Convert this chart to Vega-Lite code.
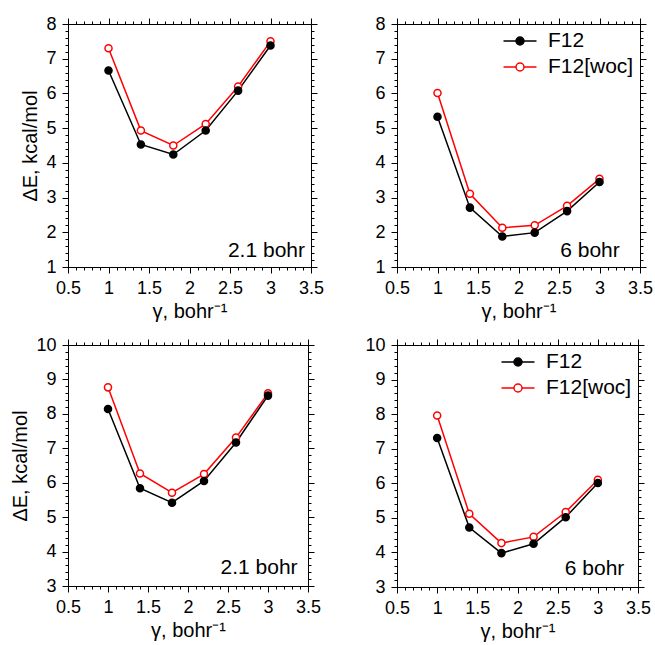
{
  "$schema": "https://vega.github.io/schema/vega-lite/v6.json",
  "padding": {"left": 10, "top": 14, "right": 1, "bottom": 2},
  "columns": 2,
  "spacing": {"row": 13, "column": 39},
  "datasets": {
    "pts": [
      {"panel": "TL", "series": "F12[woc]", "gamma": 1.0, "dE": 7.30},
      {"panel": "TL", "series": "F12[woc]", "gamma": 1.4, "dE": 4.93},
      {"panel": "TL", "series": "F12[woc]", "gamma": 1.8, "dE": 4.50},
      {"panel": "TL", "series": "F12[woc]", "gamma": 2.2, "dE": 5.12},
      {"panel": "TL", "series": "F12[woc]", "gamma": 2.6, "dE": 6.20},
      {"panel": "TL", "series": "F12[woc]", "gamma": 3.0, "dE": 7.50},
      {"panel": "TL", "series": "F12", "gamma": 1.0, "dE": 6.66},
      {"panel": "TL", "series": "F12", "gamma": 1.4, "dE": 4.53},
      {"panel": "TL", "series": "F12", "gamma": 1.8, "dE": 4.24},
      {"panel": "TL", "series": "F12", "gamma": 2.2, "dE": 4.93},
      {"panel": "TL", "series": "F12", "gamma": 2.6, "dE": 6.08},
      {"panel": "TL", "series": "F12", "gamma": 3.0, "dE": 7.38},
      {"panel": "TR", "series": "F12[woc]", "gamma": 1.0, "dE": 6.01},
      {"panel": "TR", "series": "F12[woc]", "gamma": 1.4, "dE": 3.11},
      {"panel": "TR", "series": "F12[woc]", "gamma": 1.8, "dE": 2.13},
      {"panel": "TR", "series": "F12[woc]", "gamma": 2.2, "dE": 2.20},
      {"panel": "TR", "series": "F12[woc]", "gamma": 2.6, "dE": 2.76},
      {"panel": "TR", "series": "F12[woc]", "gamma": 3.0, "dE": 3.54},
      {"panel": "TR", "series": "F12", "gamma": 1.0, "dE": 5.33},
      {"panel": "TR", "series": "F12", "gamma": 1.4, "dE": 2.71},
      {"panel": "TR", "series": "F12", "gamma": 1.8, "dE": 1.88},
      {"panel": "TR", "series": "F12", "gamma": 2.2, "dE": 1.99},
      {"panel": "TR", "series": "F12", "gamma": 2.6, "dE": 2.61},
      {"panel": "TR", "series": "F12", "gamma": 3.0, "dE": 3.45},
      {"panel": "BL", "series": "F12[woc]", "gamma": 1.0, "dE": 8.77},
      {"panel": "BL", "series": "F12[woc]", "gamma": 1.4, "dE": 6.27},
      {"panel": "BL", "series": "F12[woc]", "gamma": 1.8, "dE": 5.71},
      {"panel": "BL", "series": "F12[woc]", "gamma": 2.2, "dE": 6.25},
      {"panel": "BL", "series": "F12[woc]", "gamma": 2.6, "dE": 7.31},
      {"panel": "BL", "series": "F12[woc]", "gamma": 3.0, "dE": 8.60},
      {"panel": "BL", "series": "F12", "gamma": 1.0, "dE": 8.14},
      {"panel": "BL", "series": "F12", "gamma": 1.4, "dE": 5.84},
      {"panel": "BL", "series": "F12", "gamma": 1.8, "dE": 5.42},
      {"panel": "BL", "series": "F12", "gamma": 2.2, "dE": 6.05},
      {"panel": "BL", "series": "F12", "gamma": 2.6, "dE": 7.17},
      {"panel": "BL", "series": "F12", "gamma": 3.0, "dE": 8.53},
      {"panel": "BR", "series": "F12[woc]", "gamma": 1.0, "dE": 7.96},
      {"panel": "BR", "series": "F12[woc]", "gamma": 1.4, "dE": 5.12},
      {"panel": "BR", "series": "F12[woc]", "gamma": 1.8, "dE": 4.27},
      {"panel": "BR", "series": "F12[woc]", "gamma": 2.2, "dE": 4.45},
      {"panel": "BR", "series": "F12[woc]", "gamma": 2.6, "dE": 5.17},
      {"panel": "BR", "series": "F12[woc]", "gamma": 3.0, "dE": 6.10},
      {"panel": "BR", "series": "F12", "gamma": 1.0, "dE": 7.31},
      {"panel": "BR", "series": "F12", "gamma": 1.4, "dE": 4.72},
      {"panel": "BR", "series": "F12", "gamma": 1.8, "dE": 3.98},
      {"panel": "BR", "series": "F12", "gamma": 2.2, "dE": 4.25},
      {"panel": "BR", "series": "F12", "gamma": 2.6, "dE": 5.02},
      {"panel": "BR", "series": "F12", "gamma": 3.0, "dE": 6.01}
    ],
    "labels": [
      {"panel": "TL", "label": "2.1 bohr"},
      {"panel": "TR", "label": "6 bohr"},
      {"panel": "BL", "label": "2.1 bohr"},
      {"panel": "BR", "label": "6 bohr"}
    ]
  },
  "concat": [
    {
      "width": 243, "height": 243,
      "resolve": {"axis": {"x": "independent", "y": "independent"}},
      "layer": [
        {"data": {"name": "pts"}, "transform": [{"filter": "datum.panel == 'TL'"}],
         "mark": {"type": "line", "strokeWidth": 1.5},
         "encoding": {
           "x": {"field": "gamma", "type": "quantitative", "scale": {"domain": [0.5, 3.5], "nice": false, "zero": false},
                 "axis": {"orient": "bottom", "format": "~g", "values": [0.5, 1, 1.5, 2, 2.5, 3, 3.5], "tickSize": 6, "labelPadding": 6, "title": "γ, bohr⁻¹", "titlePadding": 4}},
           "y": {"field": "dE", "type": "quantitative", "scale": {"domain": [1, 8], "nice": false, "zero": false},
                 "axis": {"orient": "left", "values": [1, 2, 3, 4, 5, 6, 7, 8], "tickSize": 6, "labelPadding": 6, "title": "ΔE, kcal/mol", "titlePadding": 5}},
           "stroke": {"field": "series", "type": "nominal", "scale": {"domain": ["F12", "F12[woc]"], "range": ["black", "red"]}, "legend": null}
         }},
        {"data": {"name": "pts"}, "transform": [{"filter": "datum.panel == 'TL'"}],
         "mark": {"type": "point", "shape": "circle", "size": 50, "strokeWidth": 1.5, "opacity": 1},
         "encoding": {
           "x": {"field": "gamma", "type": "quantitative", "axis": {"orient": "top", "values": [0.5, 1, 1.5, 2, 2.5, 3, 3.5], "tickSize": 6, "labels": false, "title": null}},
           "y": {"field": "dE", "type": "quantitative", "axis": {"orient": "right", "values": [1, 2, 3, 4, 5, 6, 7, 8], "tickSize": 6, "labels": false, "title": null}},
           "stroke": {"field": "series", "type": "nominal", "scale": {"domain": ["F12", "F12[woc]"], "range": ["black", "red"]}, "legend": null},
           "fill": {"condition": {"test": "datum.series === 'F12'", "value": "black"}, "value": "white"}
         }},
        {"data": {"name": "pts"}, "transform": [{"filter": "datum.panel == 'TL'"}],
         "mark": {"type": "point", "opacity": 0},
         "encoding": {
           "x": {"field": "gamma", "type": "quantitative", "axis": {"orient": "bottom", "values": [0.5,0.6,0.7,0.8,0.9,1,1.1,1.2,1.3,1.4,1.5,1.6,1.7,1.8,1.9,2,2.1,2.2,2.3,2.4,2.5,2.6,2.7,2.8,2.9,3,3.1,3.2,3.3,3.4,3.5], "tickSize": 3, "labels": false, "title": null}},
           "y": {"field": "dE", "type": "quantitative", "axis": {"orient": "left", "values": [1,1.2,1.4,1.6,1.8,2,2.2,2.4,2.6,2.8,3,3.2,3.4,3.6,3.8,4,4.2,4.4,4.6,4.8,5,5.2,5.4,5.6,5.8,6,6.2,6.4,6.6,6.8,7,7.2,7.4,7.6,7.8,8], "tickSize": 3, "labels": false, "title": null}}
         }},
        {"data": {"name": "pts"}, "transform": [{"filter": "datum.panel == 'TL'"}],
         "mark": {"type": "point", "opacity": 0},
         "encoding": {
           "x": {"field": "gamma", "type": "quantitative", "axis": {"orient": "top", "values": [0.5,0.6,0.7,0.8,0.9,1,1.1,1.2,1.3,1.4,1.5,1.6,1.7,1.8,1.9,2,2.1,2.2,2.3,2.4,2.5,2.6,2.7,2.8,2.9,3,3.1,3.2,3.3,3.4,3.5], "tickSize": 3, "labels": false, "title": null}},
           "y": {"field": "dE", "type": "quantitative", "axis": {"orient": "right", "values": [1,1.2,1.4,1.6,1.8,2,2.2,2.4,2.6,2.8,3,3.2,3.4,3.6,3.8,4,4.2,4.4,4.6,4.8,5,5.2,5.4,5.6,5.8,6,6.2,6.4,6.6,6.8,7,7.2,7.4,7.6,7.8,8], "tickSize": 3, "labels": false, "title": null}}
         }},
        {"data": {"name": "labels"}, "transform": [{"filter": "datum.panel == 'TL'"}],
         "mark": {"type": "text", "align": "right", "baseline": "alphabetic", "fontSize": 21, "color": "black"},
         "encoding": {
           "text": {"field": "label"},
           "x": {"datum": 3.426, "type": "quantitative", "axis": null},
           "y": {"datum": 1.29, "type": "quantitative", "axis": null}
         }}
      ]
    },
    {
      "width": 243, "height": 243,
      "resolve": {"axis": {"x": "independent", "y": "independent"}},
      "layer": [
        {"data": {"name": "pts"}, "transform": [{"filter": "datum.panel == 'TR'"}],
         "mark": {"type": "line", "strokeWidth": 1.5},
         "encoding": {
           "x": {"field": "gamma", "type": "quantitative", "scale": {"domain": [0.5, 3.5], "nice": false, "zero": false},
                 "axis": {"orient": "bottom", "format": "~g", "values": [0.5, 1, 1.5, 2, 2.5, 3, 3.5], "tickSize": 6, "labelPadding": 6, "title": "γ, bohr⁻¹", "titlePadding": 4}},
           "y": {"field": "dE", "type": "quantitative", "scale": {"domain": [1, 8], "nice": false, "zero": false},
                 "axis": {"orient": "left", "values": [1, 2, 3, 4, 5, 6, 7, 8], "tickSize": 6, "labelPadding": 6, "title": null}},
           "stroke": {"field": "series", "type": "nominal", "scale": {"domain": ["F12", "F12[woc]"], "range": ["black", "red"]}}
         }},
        {"data": {"name": "pts"}, "transform": [{"filter": "datum.panel == 'TR'"}],
         "mark": {"type": "point", "shape": "circle", "size": 50, "strokeWidth": 1.5, "opacity": 1},
         "encoding": {
           "x": {"field": "gamma", "type": "quantitative", "axis": {"orient": "top", "values": [0.5, 1, 1.5, 2, 2.5, 3, 3.5], "tickSize": 6, "labels": false, "title": null}},
           "y": {"field": "dE", "type": "quantitative", "axis": {"orient": "right", "values": [1, 2, 3, 4, 5, 6, 7, 8], "tickSize": 6, "labels": false, "title": null}},
           "stroke": {"field": "series", "type": "nominal", "scale": {"domain": ["F12", "F12[woc]"], "range": ["black", "red"]},
                      "legend": {"orient": "top-right", "offset": 6, "title": null, "labelFontSize": 21, "symbolSize": 400, "labelOffset": 17, "rowPadding": 5, "padding": 0,
                                 "symbolStrokeWidth": 1.5, "symbolOpacity": 1,
                                 "symbolFillColor": {"expr": "datum.value === 'F12' ? 'black' : 'white'"},
                                 "symbolType": "M-1.65,0L-0.4,0M0.4,0L1.65,0M-0.4,0A0.4,0.4,0,1,0,0.4,0A0.4,0.4,0,1,0,-0.4,0Z"}},
           "fill": {"field": "series", "type": "nominal", "scale": {"domain": ["F12", "F12[woc]", "none"], "range": ["black", "white", "white"]}, "legend": null}
         }},
        {"data": {"name": "pts"}, "transform": [{"filter": "datum.panel == 'TR'"}],
         "mark": {"type": "point", "opacity": 0},
         "encoding": {
           "x": {"field": "gamma", "type": "quantitative", "axis": {"orient": "bottom", "values": [0.5,0.6,0.7,0.8,0.9,1,1.1,1.2,1.3,1.4,1.5,1.6,1.7,1.8,1.9,2,2.1,2.2,2.3,2.4,2.5,2.6,2.7,2.8,2.9,3,3.1,3.2,3.3,3.4,3.5], "tickSize": 3, "labels": false, "title": null}},
           "y": {"field": "dE", "type": "quantitative", "axis": {"orient": "left", "values": [1,1.2,1.4,1.6,1.8,2,2.2,2.4,2.6,2.8,3,3.2,3.4,3.6,3.8,4,4.2,4.4,4.6,4.8,5,5.2,5.4,5.6,5.8,6,6.2,6.4,6.6,6.8,7,7.2,7.4,7.6,7.8,8], "tickSize": 3, "labels": false, "title": null}}
         }},
        {"data": {"name": "pts"}, "transform": [{"filter": "datum.panel == 'TR'"}],
         "mark": {"type": "point", "opacity": 0},
         "encoding": {
           "x": {"field": "gamma", "type": "quantitative", "axis": {"orient": "top", "values": [0.5,0.6,0.7,0.8,0.9,1,1.1,1.2,1.3,1.4,1.5,1.6,1.7,1.8,1.9,2,2.1,2.2,2.3,2.4,2.5,2.6,2.7,2.8,2.9,3,3.1,3.2,3.3,3.4,3.5], "tickSize": 3, "labels": false, "title": null}},
           "y": {"field": "dE", "type": "quantitative", "axis": {"orient": "right", "values": [1,1.2,1.4,1.6,1.8,2,2.2,2.4,2.6,2.8,3,3.2,3.4,3.6,3.8,4,4.2,4.4,4.6,4.8,5,5.2,5.4,5.6,5.8,6,6.2,6.4,6.6,6.8,7,7.2,7.4,7.6,7.8,8], "tickSize": 3, "labels": false, "title": null}}
         }},
        {"data": {"name": "labels"}, "transform": [{"filter": "datum.panel == 'TR'"}],
         "mark": {"type": "text", "align": "right", "baseline": "alphabetic", "fontSize": 21, "color": "black"},
         "encoding": {
           "text": {"field": "label"},
           "x": {"datum": 3.25, "type": "quantitative", "axis": null},
           "y": {"datum": 1.29, "type": "quantitative", "axis": null}
         }}
      ]
    },
    {
      "width": 240, "height": 241,
      "resolve": {"axis": {"x": "independent", "y": "independent"}},
      "layer": [
        {"data": {"name": "pts"}, "transform": [{"filter": "datum.panel == 'BL'"}],
         "mark": {"type": "line", "strokeWidth": 1.5},
         "encoding": {
           "x": {"field": "gamma", "type": "quantitative", "scale": {"domain": [0.5, 3.5], "nice": false, "zero": false},
                 "axis": {"orient": "bottom", "format": "~g", "values": [0.5, 1, 1.5, 2, 2.5, 3, 3.5], "tickSize": 6, "labelPadding": 6, "title": "γ, bohr⁻¹", "titlePadding": 4}},
           "y": {"field": "dE", "type": "quantitative", "scale": {"domain": [3, 10], "nice": false, "zero": false},
                 "axis": {"orient": "left", "values": [3, 4, 5, 6, 7, 8, 9, 10], "tickSize": 6, "labelPadding": 6, "title": "ΔE, kcal/mol", "titlePadding": 5}},
           "stroke": {"field": "series", "type": "nominal", "scale": {"domain": ["F12", "F12[woc]"], "range": ["black", "red"]}, "legend": null}
         }},
        {"data": {"name": "pts"}, "transform": [{"filter": "datum.panel == 'BL'"}],
         "mark": {"type": "point", "shape": "circle", "size": 50, "strokeWidth": 1.5, "opacity": 1},
         "encoding": {
           "x": {"field": "gamma", "type": "quantitative", "axis": {"orient": "top", "values": [0.5, 1, 1.5, 2, 2.5, 3, 3.5], "tickSize": 6, "labels": false, "title": null}},
           "y": {"field": "dE", "type": "quantitative", "axis": {"orient": "right", "values": [3, 4, 5, 6, 7, 8, 9, 10], "tickSize": 6, "labels": false, "title": null}},
           "stroke": {"field": "series", "type": "nominal", "scale": {"domain": ["F12", "F12[woc]"], "range": ["black", "red"]}, "legend": null},
           "fill": {"condition": {"test": "datum.series === 'F12'", "value": "black"}, "value": "white"}
         }},
        {"data": {"name": "pts"}, "transform": [{"filter": "datum.panel == 'BL'"}],
         "mark": {"type": "point", "opacity": 0},
         "encoding": {
           "x": {"field": "gamma", "type": "quantitative", "axis": {"orient": "bottom", "values": [0.5,0.6,0.7,0.8,0.9,1,1.1,1.2,1.3,1.4,1.5,1.6,1.7,1.8,1.9,2,2.1,2.2,2.3,2.4,2.5,2.6,2.7,2.8,2.9,3,3.1,3.2,3.3,3.4,3.5], "tickSize": 3, "labels": false, "title": null}},
           "y": {"field": "dE", "type": "quantitative", "axis": {"orient": "left", "values": [3,3.2,3.4,3.6,3.8,4,4.2,4.4,4.6,4.8,5,5.2,5.4,5.6,5.8,6,6.2,6.4,6.6,6.8,7,7.2,7.4,7.6,7.8,8,8.2,8.4,8.6,8.8,9,9.2,9.4,9.6,9.8,10], "tickSize": 3, "labels": false, "title": null}}
         }},
        {"data": {"name": "pts"}, "transform": [{"filter": "datum.panel == 'BL'"}],
         "mark": {"type": "point", "opacity": 0},
         "encoding": {
           "x": {"field": "gamma", "type": "quantitative", "axis": {"orient": "top", "values": [0.5,0.6,0.7,0.8,0.9,1,1.1,1.2,1.3,1.4,1.5,1.6,1.7,1.8,1.9,2,2.1,2.2,2.3,2.4,2.5,2.6,2.7,2.8,2.9,3,3.1,3.2,3.3,3.4,3.5], "tickSize": 3, "labels": false, "title": null}},
           "y": {"field": "dE", "type": "quantitative", "axis": {"orient": "right", "values": [3,3.2,3.4,3.6,3.8,4,4.2,4.4,4.6,4.8,5,5.2,5.4,5.6,5.8,6,6.2,6.4,6.6,6.8,7,7.2,7.4,7.6,7.8,8,8.2,8.4,8.6,8.8,9,9.2,9.4,9.6,9.8,10], "tickSize": 3, "labels": false, "title": null}}
         }},
        {"data": {"name": "labels"}, "transform": [{"filter": "datum.panel == 'BL'"}],
         "mark": {"type": "text", "align": "right", "baseline": "alphabetic", "fontSize": 21, "color": "black"},
         "encoding": {
           "text": {"field": "label"},
           "x": {"datum": 3.37, "type": "quantitative", "axis": null},
           "y": {"datum": 3.35, "type": "quantitative", "axis": null}
         }}
      ]
    },
    {
      "width": 241, "height": 242,
      "resolve": {"axis": {"x": "independent", "y": "independent"}},
      "layer": [
        {"data": {"name": "pts"}, "transform": [{"filter": "datum.panel == 'BR'"}],
         "mark": {"type": "line", "strokeWidth": 1.5},
         "encoding": {
           "x": {"field": "gamma", "type": "quantitative", "scale": {"domain": [0.5, 3.5], "nice": false, "zero": false},
                 "axis": {"orient": "bottom", "format": "~g", "values": [0.5, 1, 1.5, 2, 2.5, 3, 3.5], "tickSize": 6, "labelPadding": 6, "title": "γ, bohr⁻¹", "titlePadding": 4}},
           "y": {"field": "dE", "type": "quantitative", "scale": {"domain": [3, 10], "nice": false, "zero": false},
                 "axis": {"orient": "left", "values": [3, 4, 5, 6, 7, 8, 9, 10], "tickSize": 6, "labelPadding": 6, "title": null}},
           "stroke": {"field": "series", "type": "nominal", "scale": {"domain": ["F12", "F12[woc]"], "range": ["black", "red"]}}
         }},
        {"data": {"name": "pts"}, "transform": [{"filter": "datum.panel == 'BR'"}],
         "mark": {"type": "point", "shape": "circle", "size": 50, "strokeWidth": 1.5, "opacity": 1},
         "encoding": {
           "x": {"field": "gamma", "type": "quantitative", "axis": {"orient": "top", "values": [0.5, 1, 1.5, 2, 2.5, 3, 3.5], "tickSize": 6, "labels": false, "title": null}},
           "y": {"field": "dE", "type": "quantitative", "axis": {"orient": "right", "values": [3, 4, 5, 6, 7, 8, 9, 10], "tickSize": 6, "labels": false, "title": null}},
           "stroke": {"field": "series", "type": "nominal", "scale": {"domain": ["F12", "F12[woc]"], "range": ["black", "red"]},
                      "legend": {"orient": "top-right", "offset": 6, "title": null, "labelFontSize": 21, "symbolSize": 400, "labelOffset": 17, "rowPadding": 5, "padding": 0,
                                 "symbolStrokeWidth": 1.5, "symbolOpacity": 1,
                                 "symbolFillColor": {"expr": "datum.value === 'F12' ? 'black' : 'white'"},
                                 "symbolType": "M-1.65,0L-0.4,0M0.4,0L1.65,0M-0.4,0A0.4,0.4,0,1,0,0.4,0A0.4,0.4,0,1,0,-0.4,0Z"}},
           "fill": {"field": "series", "type": "nominal", "scale": {"domain": ["F12", "F12[woc]", "none"], "range": ["black", "white", "white"]}, "legend": null}
         }},
        {"data": {"name": "pts"}, "transform": [{"filter": "datum.panel == 'BR'"}],
         "mark": {"type": "point", "opacity": 0},
         "encoding": {
           "x": {"field": "gamma", "type": "quantitative", "axis": {"orient": "bottom", "values": [0.5,0.6,0.7,0.8,0.9,1,1.1,1.2,1.3,1.4,1.5,1.6,1.7,1.8,1.9,2,2.1,2.2,2.3,2.4,2.5,2.6,2.7,2.8,2.9,3,3.1,3.2,3.3,3.4,3.5], "tickSize": 3, "labels": false, "title": null}},
           "y": {"field": "dE", "type": "quantitative", "axis": {"orient": "left", "values": [3,3.2,3.4,3.6,3.8,4,4.2,4.4,4.6,4.8,5,5.2,5.4,5.6,5.8,6,6.2,6.4,6.6,6.8,7,7.2,7.4,7.6,7.8,8,8.2,8.4,8.6,8.8,9,9.2,9.4,9.6,9.8,10], "tickSize": 3, "labels": false, "title": null}}
         }},
        {"data": {"name": "pts"}, "transform": [{"filter": "datum.panel == 'BR'"}],
         "mark": {"type": "point", "opacity": 0},
         "encoding": {
           "x": {"field": "gamma", "type": "quantitative", "axis": {"orient": "top", "values": [0.5,0.6,0.7,0.8,0.9,1,1.1,1.2,1.3,1.4,1.5,1.6,1.7,1.8,1.9,2,2.1,2.2,2.3,2.4,2.5,2.6,2.7,2.8,2.9,3,3.1,3.2,3.3,3.4,3.5], "tickSize": 3, "labels": false, "title": null}},
           "y": {"field": "dE", "type": "quantitative", "axis": {"orient": "right", "values": [3,3.2,3.4,3.6,3.8,4,4.2,4.4,4.6,4.8,5,5.2,5.4,5.6,5.8,6,6.2,6.4,6.6,6.8,7,7.2,7.4,7.6,7.8,8,8.2,8.4,8.6,8.8,9,9.2,9.4,9.6,9.8,10], "tickSize": 3, "labels": false, "title": null}}
         }},
        {"data": {"name": "labels"}, "transform": [{"filter": "datum.panel == 'BR'"}],
         "mark": {"type": "text", "align": "right", "baseline": "alphabetic", "fontSize": 21, "color": "black"},
         "encoding": {
           "text": {"field": "label"},
           "x": {"datum": 3.33, "type": "quantitative", "axis": null},
           "y": {"datum": 3.35, "type": "quantitative", "axis": null}
         }}
      ]
    }
  ],
  "resolve": {"scale": {"stroke": "independent", "fill": "independent"}, "legend": {"stroke": "independent", "fill": "independent"}},
  "config": {
    "font": "Liberation Sans",
    "background": "white",
    "view": {"stroke": "black", "strokeWidth": 1},
    "axis": {"grid": false, "domain": false, "tickColor": "black", "tickWidth": 1, "labelColor": "black", "titleColor": "black",
             "labelFont": "Liberation Sans", "titleFont": "Liberation Sans", "labelFontSize": 18, "titleFontSize": 20, "titleFontWeight": "normal",
             "labelFlush": false, "labelOverlap": false},
    "legend": {"labelFont": "Liberation Sans", "labelColor": "black"}
  }
}
